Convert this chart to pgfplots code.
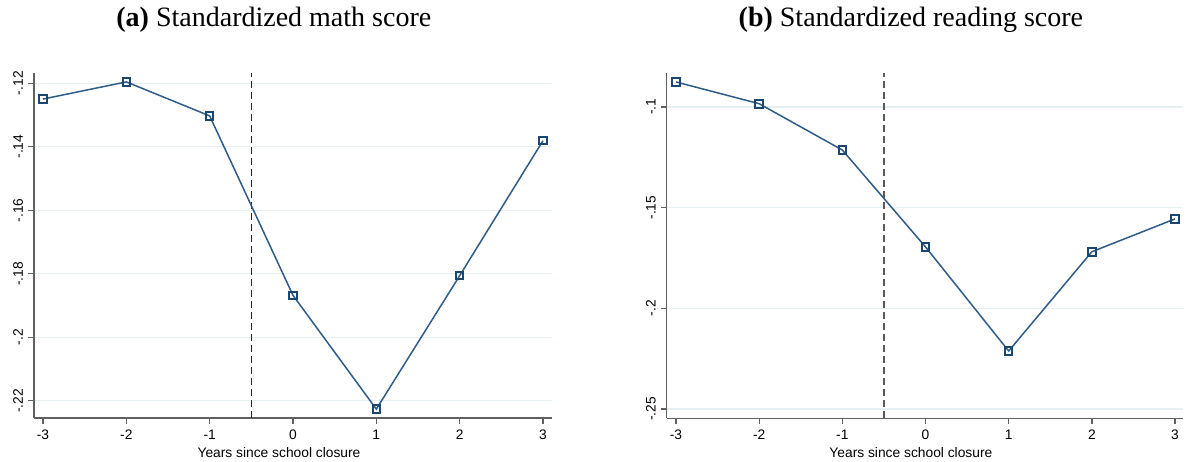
\documentclass[border=0pt]{standalone}
\usepackage{pgfplots}
\pgfplotsset{compat=1.18}
\usepackage{fontspec}
\setmainfont{Liberation Sans}
\newfontfamily\titlefont{Liberation Serif}
\definecolor{stnavy}{HTML}{1A476F}
\definecolor{stline}{HTML}{2E5C88}
\definecolor{stgrid}{HTML}{E6EFF1}
\definecolor{staxis}{HTML}{606060}
\pgfplotsset{
 panel/.style={
  scale only axis,
  axis x line*=bottom, axis y line*=left,
  axis line style={staxis, line width=1.5pt, -},
  tick style={staxis, line width=1.3pt},
  tick align=outside, major tick length=5.5pt,
  xtick={-3,...,3}, xticklabels={-3,-2,-1,0,1,2,3},
  ymajorgrids, grid style={stgrid, line width=1.2pt},
  ticklabel style={font=\fontsize{13.8}{16}\selectfont},
  yticklabel style={rotate=90, anchor=south},
  yticklabel shift=2pt, xticklabel shift=3pt,
  xlabel={Years since school closure},
  label style={font=\fontsize{13.8}{16}\selectfont},
  xlabel style={at={(axis description cs:0.473,0)}, anchor=base, yshift=-39pt},
  title style={font=\fontsize{28}{32}\titlefont, anchor=base, yshift=40pt},
  clip=false,
 },
 mydata/.style={stline, line width=1.5pt, mark=square, mark size=3.8pt, mark options={solid, draw=stnavy, line width=2pt, fill=white}},
}
\pgfplotstableread{
x y
-3 -0.1250
-2 -0.1196
-1 -0.1303
0 -0.1868
1 -0.2226
2 -0.1806
3 -0.1381
}\mathdata
\pgfplotstableread{
x y
-3 -0.0876
-2 -0.0984
-1 -0.1214
0 -0.1695
1 -0.2212
2 -0.1719
3 -0.1556
}\readdata
\begin{document}
\begin{tikzpicture}
\useasboundingbox (0,0) rectangle (1189pt,-462pt);
\begin{axis}[panel, at={(34pt,-418pt)}, anchor=south west, width=518pt, height=345pt,
  xmin=-3.108, xmax=3.108, ymin=-0.2254, ymax=-0.1168,
  ytick={-0.22,-0.2,-0.18,-0.16,-0.14,-0.12}, yticklabels={-.22,-.2,-.18,-.16,-.14,-.12},
  title={\textbf{(a)} Standardized math score},
  title style={at={(axis description cs:0.463,1)}}]
\addplot[black!85, line width=1.6pt, dash pattern=on 7pt off 4pt] coordinates {(-0.5,-0.2254) (-0.5,-0.1168)};
\addplot[mydata] table {\mathdata};
\end{axis}
\begin{axis}[panel, at={(666.7pt,-418.3pt)}, anchor=south west, width=516.3pt, height=345.6pt,
  xmin=-3.112, xmax=3.096, ymin=-0.2546, ymax=-0.083,
  ytick={-0.25,-0.2,-0.15,-0.1}, yticklabels={-.25,-.2,-.15,-.1},
  title={\textbf{(b)} Standardized reading score},
  title style={at={(axis description cs:0.473,1)}}]
\addplot[black!65, line width=1.6pt, dash pattern=on 7pt off 4pt] coordinates {(-0.5,-0.2546) (-0.5,-0.083)};
\addplot[mydata] table {\readdata};
\end{axis}
\end{tikzpicture}
\end{document}
